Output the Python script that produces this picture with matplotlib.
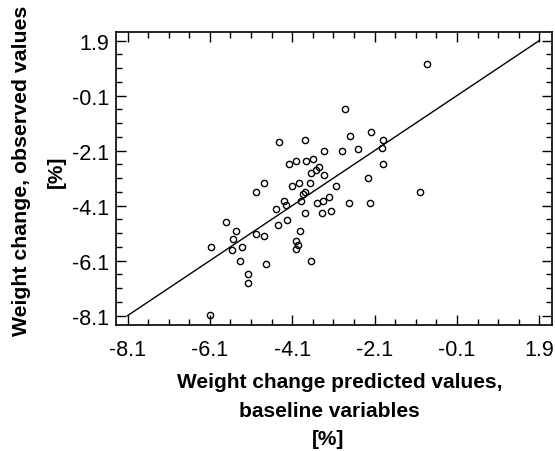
import matplotlib
matplotlib.use("Agg")
import matplotlib.pyplot as plt
from matplotlib.ticker import FixedLocator

plt.rcParams["font.family"] = ["Liberation Sans", "DejaVu Sans"]

# predicted (x) vs observed (y) weight change, %
predicted = [-0.82, -2.83, -2.18, -2.69, -4.42, -3.78, -1.90, -3.32, -2.89, -2.50,
             -1.92, -4.19, -4.02, -3.76, -3.59, -1.90, -3.64, -3.53, -3.46, -3.32,
             -2.25, -4.78, -3.93, -3.67, -4.98, -4.11, -3.03, -3.84, -3.78, -1.00,
             -3.20, -4.31, -4.26, -4.50, -3.88, -3.51, -3.35, -2.71, -2.22, -3.78,
             -3.38, -3.17, -5.71, -4.45, -4.22, -5.47, -5.53, -4.99, -4.78, -3.90,
             -6.08, -5.56, -5.33, -4.00, -3.97, -4.00, -5.37, -4.74, -3.65, -5.18,
             -5.18, -6.10]
observed = [1.03, -0.58, -1.41, -1.58, -1.80, -1.72, -1.72, -2.11, -2.11, -2.03,
            -2.02, -2.60, -2.49, -2.48, -2.41, -2.60, -2.92, -2.79, -2.70, -3.00,
            -3.09, -3.29, -3.29, -3.29, -3.61, -3.40, -3.40, -3.68, -3.62, -3.62,
            -3.79, -3.92, -4.09, -4.23, -3.92, -4.00, -3.92, -4.00, -4.00, -4.37,
            -4.37, -4.31, -4.70, -4.80, -4.61, -5.01, -5.31, -5.12, -5.20, -5.01,
            -5.61, -5.70, -5.61, -5.39, -5.52, -5.69, -6.13, -6.22, -6.13, -6.57,
            -6.92, -8.08]

ticks = [-8.1, -6.1, -4.1, -2.1, -0.1, 1.9]
tick_labels = ["-8.1", "-6.1", "-4.1", "-2.1", "-0.1", "1.9"]
line_ends = [-8.1, 1.9]

fig = plt.figure(figsize=(5.55, 4.52), dpi=100)
ax = fig.add_axes([116 / 555, 1 - 326 / 452, (551.7 - 116) / 555, (326 - 33.3) / 452])

ax.plot(line_ends, line_ends, color="black", lw=1.0)
ax.plot(predicted, observed, "o", ms=4.5, mfc="none", mec="black", mew=1.0)

ax.set_xlim(-8.38, 2.2)
ax.set_ylim(-8.44, 2.2)
minor = [t + 0.5 * k for t in ticks[:-1] for k in (1, 2, 3)]
for axis in (ax.xaxis, ax.yaxis):
    axis.set_major_locator(FixedLocator(ticks))
    axis.set_minor_locator(FixedLocator(minor))
ax.set_xticklabels(tick_labels)
ax.set_yticklabels(tick_labels)
ax.tick_params(which="both", direction="in", top=True, right=True,
               labelsize=15.5, width=1)
ax.tick_params(which="major", length=7)
ax.tick_params(which="minor", length=4)
ax.tick_params(axis="x", pad=10)
ax.tick_params(axis="y", pad=5)
for s in ax.spines.values():
    s.set_linewidth(1.2)

W, H = 555, 452
fs = 15
fig.text(340 / W, 1 - 388 / H, "Weight change predicted values,", ha="center",
         va="baseline", fontsize=fs, fontweight="bold")
fig.text(329 / W, 1 - 417 / H, "baseline variables", ha="center",
         va="baseline", fontsize=fs, fontweight="bold")
fig.text(328 / W, 1 - 445 / H, "[%]", ha="center", va="baseline",
         fontsize=fs, fontweight="bold")
fig.text(31 / W, 1 - 336 / H, "Weight change, observed values", rotation=90,
         ha="right", va="bottom", fontsize=15.3, fontweight="bold")
fig.text(66 / W, 1 - 172 / H, "[%]", rotation=90, ha="right", va="center",
         fontsize=fs, fontweight="bold")

fig.savefig("out.png", dpi=100)
